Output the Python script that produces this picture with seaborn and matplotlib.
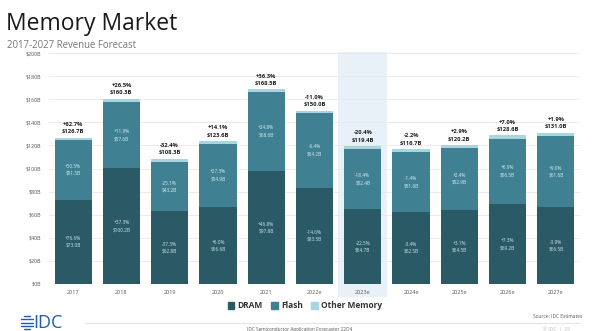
import matplotlib
matplotlib.use("Agg")
import matplotlib.pyplot as plt
from matplotlib.patches import Rectangle
import seaborn as sns
import pandas as pd
import numpy as np

years = ["2017", "2018", "2019", "2020", "2021", "2022e", "2023e", "2024e", "2025e", "2026e", "2027e"]
dram = [73.0, 100.2, 62.8, 66.6, 97.8, 83.5, 64.7, 62.5, 64.5, 69.2, 66.5]
flash = [51.5, 57.6, 43.2, 54.9, 68.6, 64.2, 52.4, 51.6, 52.9, 56.5, 61.6]
total = [126.7, 160.3, 108.3, 123.6, 168.5, 150.0, 119.4, 116.7, 120.2, 128.6, 131.0]
dram_growth = ["+76.6%", "+37.3%", "-37.3%", "+6.0%", "+46.8%", "-14.6%", "-22.5%", "-3.4%", "+3.1%", "+7.3%", "-3.9%"]
flash_growth = ["+50.5%", "+11.9%", "-25.1%", "+27.3%", "+24.8%", "-6.4%", "-18.4%", "-1.4%", "+2.4%", "+6.9%", "+9.0%"]
total_growth = ["+62.7%", "+26.5%", "-32.4%", "+14.1%", "+36.3%", "-11.0%", "-20.4%", "-2.2%", "+2.9%", "+7.0%", "+1.9%"]
yticks = [0, 20, 40, 60, 80, 100, 120, 140, 160, 180, 200]
highlight_year = "2023e"

c_dram = "#2b5a67"
c_flash = "#3f8193"
c_other = "#a8d5df"

df = pd.DataFrame({"year": years, "dram": dram, "flash": flash, "total": total})
df["df"] = df["dram"] + df["flash"]

sns.set_style("white")
plt.rcParams["font.family"] = ["Open Sans", "DejaVu Sans"]

fig = plt.figure(figsize=(6.0, 3.31), dpi=100)
ax = fig.add_axes([49/600, 1-284/331, (580-49)/600, (284-53)/331])

# highlight column
hi = years.index(highlight_year)
ax.add_patch(Rectangle((hi-0.51, -11.5), 1.02, 212.5, facecolor="#e8f0f8", edgecolor="none",
                       clip_on=False, zorder=0))

w = 0.77
for col, c, z in [("total", c_other, 2), ("df", c_flash, 3), ("dram", c_dram, 4)]:
    sns.barplot(data=df, x="year", y=col, color=c, width=w, saturation=1, ax=ax, zorder=z,
                linewidth=0, edgecolor="none")

ax.set_ylim(0, 200)
ax.set_xlim(-0.5, len(years)-0.5)
ax.set_yticks(yticks)
ax.set_yticklabels([f"${v}B" for v in yticks])
ax.set_xlabel("")
ax.set_ylabel("")
ax.tick_params(axis="y", labelsize=3.8, colors="#555555", length=0, pad=6)
ax.tick_params(axis="x", labelsize=4, colors="#555555", length=0, pad=4)
ax.grid(axis="y", color="#e8e8e8", linewidth=0.6, zorder=0)
ax.set_axisbelow(True)
for s in ax.spines.values():
    s.set_visible(False)
ax.patch.set_alpha(0)

for i in range(len(years)):
    ax.text(i, dram[i]/2, f"{dram_growth[i]}\n${dram[i]:.1f}B", ha="center", va="center",
            fontsize=3.4, color="#cfe3e8", linespacing=1.5, zorder=6)
    ax.text(i, dram[i] + flash[i]/2, f"{flash_growth[i]}\n${flash[i]:.1f}B", ha="center", va="center",
            fontsize=3.4, color="#d8ecf1", linespacing=1.5, zorder=6)
    ax.text(i, total[i] + 3, f"{total_growth[i]}\n${total[i]:.1f}B", ha="center", va="bottom",
            fontsize=4.2, color="#222222", fontweight="bold", linespacing=1.6, zorder=6)

# titles
fig.text(6/600, 1-24/331, "Memory Market", fontsize=16.5, color="#1a1a1a", va="center", ha="left")
fig.text(7/600, 1-45/331, "2017-2027 Revenue Forecast", fontsize=6.9, color="#777777", va="center", ha="left")

# legend
handles = [Rectangle((0, 0), 1, 1, color=c) for c in [c_dram, c_flash, c_other]]
fig.legend(handles, ["DRAM", "Flash", "Other Memory"], loc="center", bbox_to_anchor=(305/600, 1-306/331),
           ncol=3, frameon=False, handlelength=0.8, handleheight=0.8, columnspacing=1.0,
           handletextpad=0.4, prop={"weight": "bold", "size": 6})
for t in fig.legends[0].get_texts():
    t.set_color("#333333")

# footer
fig.text(582/600, 1-316/331, "Source: IDC Estimates", fontsize=3.5, color="#555555", ha="right", va="center")
fig.add_artist(plt.Line2D([85/600, 580/600], [1-323/331, 1-323/331], color="#e5e5e5", linewidth=0.8))
fig.text(300/600, 1-330/331, "IDC Semiconductor Application Forecaster 22Q4", fontsize=3.4, color="#555555",
         ha="center", va="center")
fig.text(570/600, 1-329/331, "© IDC  |  25", fontsize=3.6, color="#bbbbbb", ha="right", va="center")
# logo
fig.text(33/600, 1-323/331, "IDC", fontsize=13, color="#1d5fae", ha="left", va="center")
lax = fig.add_axes([20/600, 1-331/331, 14/600, 17/331])
lax.set_xlim(-1, 1); lax.set_ylim(-1, 1); lax.axis("off")
for yy in np.linspace(-0.75, 0.75, 5):
    xx = np.sqrt(max(0, 0.9**2 - yy**2))
    lax.plot([-xx, xx], [yy, yy], color="#1d5fae", linewidth=1.0)

fig.savefig("out.png", dpi=100)
